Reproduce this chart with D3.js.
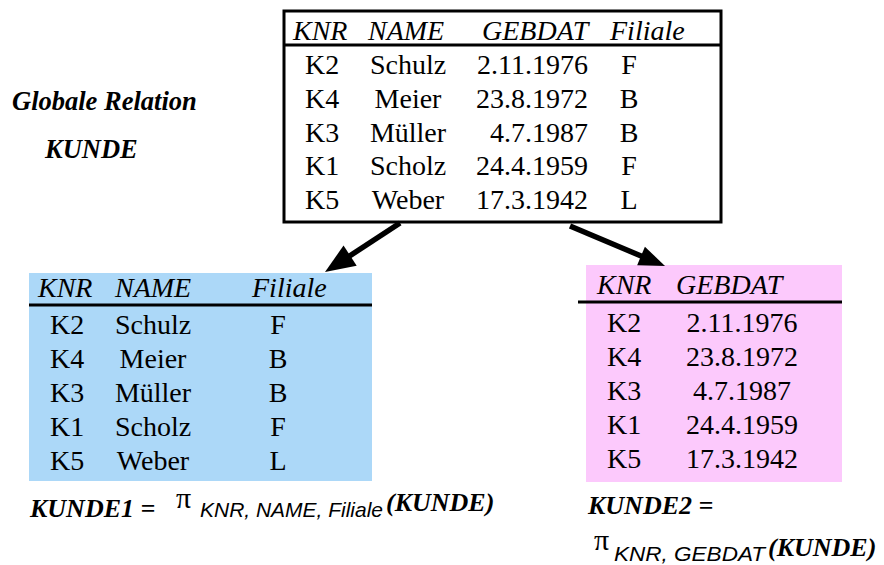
<!DOCTYPE html>
<html><head><meta charset="utf-8">
<script src="https://cdn.jsdelivr.net/npm/d3@7"></script>
<style>body{margin:0;background:#fff}svg{display:block}</style>
</head><body>
<script>
// ---- data ----
const columns = ["KNR", "NAME", "GEBDAT", "Filiale"];
const knr = ["K2", "K4", "K3", "K1", "K5"];
const names = ["Schulz", "Meier", "Müller", "Scholz", "Weber"];
const gebdat = ["2.11.1976", "23.8.1972", "4.7.1987", "24.4.1959", "17.3.1942"];
const filiale = ["F", "B", "B", "F", "L"];
const cols1 = ["KNR", "NAME", "Filiale"];
const cols2 = ["KNR", "GEBDAT"];

const W = 884, H = 565;
const svg = d3.select("body").append("svg").attr("width", W).attr("height", H);
const serif = "'Liberation Serif','Times New Roman',serif";
const sans = "'Liberation Sans',Arial,sans-serif";
const rowIdx = d3.range(knr.length);

function table(g, spec) {
  const y = d3.scaleLinear().domain([0, knr.length - 1]).range(spec.rows);
  if (spec.fill) g.append("rect").attr("x", spec.box[0]).attr("y", spec.box[1])
      .attr("width", spec.box[2] - spec.box[0]).attr("height", spec.box[3] - spec.box[1])
      .attr("fill", spec.fill);
  if (spec.border) g.append("rect").attr("x", spec.box[0]).attr("y", spec.box[1])
      .attr("width", spec.box[2] - spec.box[0]).attr("height", spec.box[3] - spec.box[1])
      .attr("fill", "none").attr("stroke", "#000").attr("stroke-width", 3);
  g.append("line").attr("x1", spec.hline[0]).attr("x2", spec.hline[1])
    .attr("y1", spec.hline[2]).attr("y2", spec.hline[2])
    .attr("stroke", "#000").attr("stroke-width", 3);
  g.selectAll("text.h").data(spec.cols).join("text").attr("class", "h")
    .attr("x", c => spec.hx[c]).attr("y", spec.hy)
    .attr("font-family", serif).attr("font-style", "italic").attr("font-size", 28)
    .text(c => c);
  spec.cols.forEach(c => {
    const vals = {KNR: knr, NAME: names, GEBDAT: gebdat, Filiale: filiale}[c];
    const pos = spec.vx[c];
    g.selectAll("text.v" + c).data(rowIdx).join("text").attr("class", "v" + c)
      .attr("x", pos[0]).attr("y", i => y(i)).attr("text-anchor", pos[1])
      .attr("font-family", serif).attr("font-size", 28).text(i => vals[i]);
  });
}

// global relation
table(svg.append("g"), {
  cols: columns, box: [284, 11, 721, 222], border: true,
  hline: [284, 721, 45], hy: 40,
  hx: {KNR: 293, NAME: 368, GEBDAT: 482, Filiale: 610},
  vx: {KNR: [305, "start"], NAME: [408, "middle"], GEBDAT: [588, "end"], Filiale: [629, "middle"]},
  rows: [74, 209]
});
// KUNDE1
table(svg.append("g"), {
  cols: cols1, box: [29, 273, 372, 481], fill: "#acd8f8",
  hline: [29, 372, 305], hy: 297,
  hx: {KNR: 38, NAME: 115, Filiale: 252},
  vx: {KNR: [50, "start"], NAME: [153, "middle"], Filiale: [278, "middle"]},
  rows: [334, 470]
});
// KUNDE2
table(svg.append("g"), {
  cols: cols2, box: [586, 265, 842, 482], fill: "#fcc9fc",
  hline: [578, 842, 302], hy: 294,
  hx: {KNR: 597, GEBDAT: 676},
  vx: {KNR: [607, "start"], GEBDAT: [742, "middle"]},
  rows: [332, 468]
});

// arrows
function arrow(x1, y1, x2, y2, hl, hw) {
  const dx = x2 - x1, dy = y2 - y1, L = Math.hypot(dx, dy);
  const ux = dx / L, uy = dy / L, bx = x2 - ux * hl, by = y2 - uy * hl;
  svg.append("line").attr("x1", x1).attr("y1", y1).attr("x2", bx + ux * 2).attr("y2", by + uy * 2)
    .attr("stroke", "#000").attr("stroke-width", 5.5);
  svg.append("path").attr("d", d3.line()([[x2, y2], [bx - uy * hw, by + ux * hw], [bx + uy * hw, by - ux * hw]]) + "Z")
    .attr("fill", "#000");
}
arrow(400, 223, 325, 272, 30, 12);
arrow(570, 226, 665, 266, 26, 10);

// labels
const lab = (x, y, t, fam, size, style, weight) => svg.append("text").attr("x", x).attr("y", y)
  .attr("font-family", fam).attr("font-size", size).attr("font-style", style || "normal")
  .attr("font-weight", weight || "normal").text(t);
lab(12, 110, "Globale Relation", serif, 26.5, "italic", "bold");
lab(45, 158, "KUNDE", serif, 26.5, "italic", "bold");

lab(30, 517, "KUNDE1 =", serif, 26, "italic", "bold");
lab(176, 508, "π", serif, 30);
lab(200, 517, "KNR, NAME, Filiale", sans, 21, "italic").attr("textLength", 183).attr("lengthAdjust", "spacingAndGlyphs");
lab(386, 511, "(KUNDE)", serif, 26, "italic", "bold");

lab(588, 514, "KUNDE2 =", serif, 26, "italic", "bold");
lab(594, 550, "π", serif, 30);
lab(614, 561, "KNR, GEBDAT", sans, 21, "italic").attr("textLength", 151).attr("lengthAdjust", "spacingAndGlyphs");
lab(768, 556, "(KUNDE)", serif, 26, "italic", "bold");
</script>
</body></html>
